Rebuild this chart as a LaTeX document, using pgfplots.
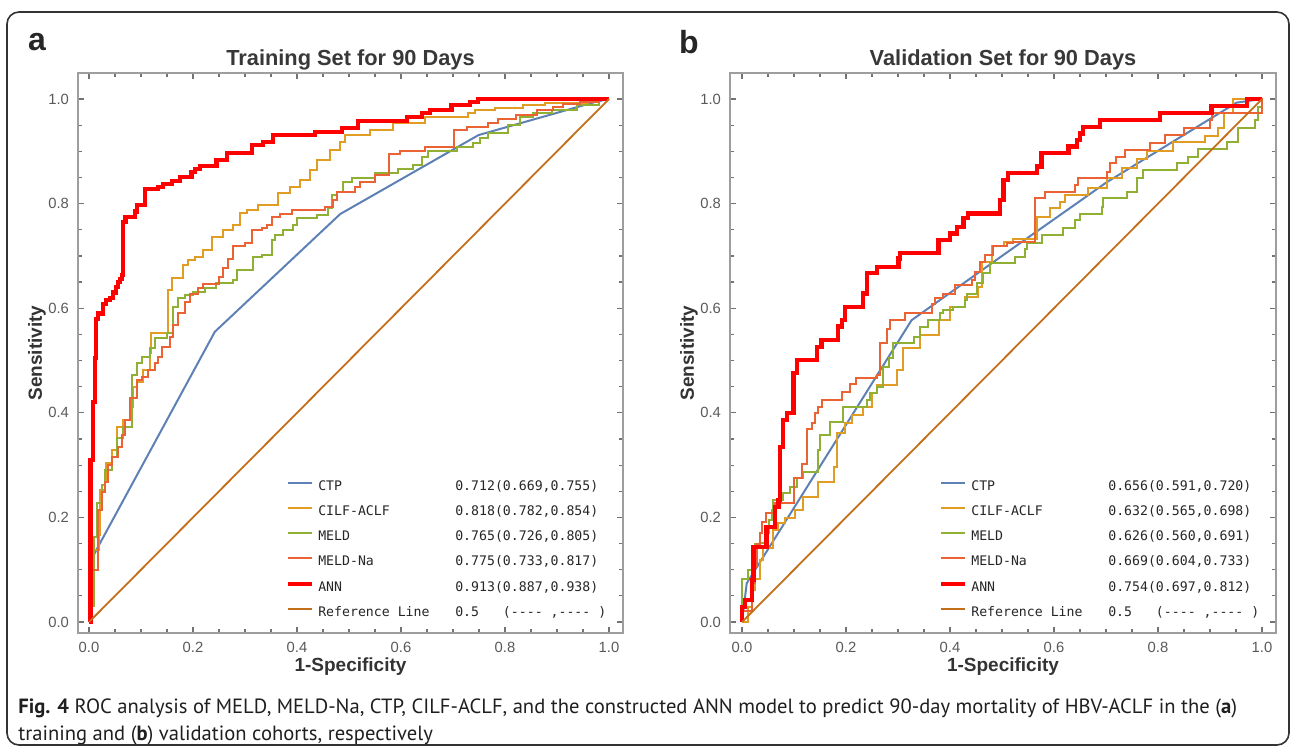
\documentclass[border=0pt]{standalone}
\usepackage{pgfplots}
\pgfplotsset{compat=1.18}
\usepackage{fontspec}
\setmainfont{Liberation Sans}
\newfontfamily\legmono{DejaVu Sans Mono}
\newfontfamily\capfont{PT Sans}

\definecolor{cCTP}{HTML}{5E81B5}
\definecolor{cCILF}{HTML}{E19C24}
\definecolor{cMELD}{HTML}{8FB032}
\definecolor{cMELDNa}{HTML}{EB6235}
\definecolor{cANN}{HTML}{FF0000}
\definecolor{cRef}{HTML}{C56E1A}

\pgfplotsset{
  rocaxis/.style={
    scale only axis, height=280pt, clip=false,
    ymin=-0.021, ymax=1.0497,
    xtick={0,0.2,0.4,0.6,0.8,1}, xticklabels={0.0,0.2,0.4,0.6,0.8,1.0},
    ytick={0,0.2,0.4,0.6,0.8,1}, yticklabels={0.0,0.2,0.4,0.6,0.8,1.0},
    minor tick num=3,
    tick align=inside, tick pos=both, xticklabel pos=lower, yticklabel pos=left,
    major tick length=3pt, minor tick length=1.8pt,
    axis line style={color=black!38, line width=0.7pt},
    tick style={color=black!55, line width=0.6pt},
    ticklabel style={font=\fontsize{7.4}{8}\selectfont, text=black!65},
    xticklabel style={yshift=-0.8pt},
    yticklabel style={xshift=-1pt},
    /pgf/number format/assume math mode=true,
    xlabel={1-Specificity}, ylabel={Sensitivity},
    xlabel style={font=\bfseries\fontsize{9.5}{11}\selectfont, text=black!80,
      at={(axis description cs:0.5,-0.0607)}, anchor=center},
    ylabel style={font=\bfseries\fontsize{9.5}{11}\selectfont, text=black!80,
      at={(axis description cs:-0.0752,0.5)}, anchor=center},
    legend style={draw=none, fill=none, inner sep=0pt, outer sep=0pt,
      at={(axis cs:0.379,0.268)}, anchor=north west,
      row sep=6.8pt, column sep=2pt, font=\legmono\fontsize{6.6}{7}\selectfont,
      text=black!85,
      nodes={inner sep=0pt, text height=4.5pt, text depth=1.2pt}},
    legend cell align=left,
    legend image code/.code={\draw[#1] (0pt,2.2pt) -- (12pt,2.2pt);},
    roc/.style={const plot, line width=1pt},
  }
}

\newcommand{\nm}[1]{\makebox[68.5pt][l]{#1}}
\newcommand{\ttl}[1]{\node[font=\bfseries\fontsize{10.9}{12}\selectfont, text=black!78] at (axis description cs:0.5,1.0235) {#1};}
\newcommand{\plet}[1]{\node[font=\bfseries\fontsize{16}{18}\selectfont, text=black!85] at (axis description cs:-0.0752,1.0554) {#1};}

\begin{document}
\begin{tikzpicture}
\useasboundingbox (0,0) rectangle (647.5pt,-375pt);
\draw[rounded corners=6pt, line width=0.8pt, color=black!80] (3.5pt,-6pt) rectangle (644.5pt,-372.5pt);

% panel a
\begin{axis}[rocaxis, width=272.5pt, xmin=-0.0212, xmax=1.0269,
  at={(39pt,-316.5pt)}, anchor=south west]
\addplot[color=cCTP, line width=1pt] coordinates {
  (0,0) (0.005,0.12) (0.018,0.145) (0.242,0.555) (0.483,0.78) (0.749,0.931) (0.976,0.995) (1,1)};
\addlegendentry{\nm{CTP}0.712(0.669,0.755)}
\addplot[color=cCILF, roc] coordinates {
  (0,0) (0.005,0.106) (0.010,0.138) (0.020,0.166) (0.021,0.252) (0.031,0.271)
  (0.033,0.304) (0.044,0.329) (0.053,0.373) (0.066,0.386) (0.078,0.412)
  (0.085,0.45) (0.092,0.459) (0.104,0.482) (0.117,0.514) (0.120,0.553)
  (0.152,0.635) (0.159,0.658) (0.181,0.683) (0.191,0.692) (0.204,0.698)
  (0.220,0.711) (0.236,0.737) (0.258,0.75) (0.277,0.759) (0.290,0.782)
  (0.303,0.788) (0.325,0.797) (0.364,0.82) (0.387,0.832) (0.406,0.845)
  (0.425,0.864) (0.438,0.883) (0.463,0.902) (0.483,0.918) (0.492,0.931)
  (0.540,0.941) (0.585,0.954) (0.646,0.966) (0.729,0.973) (0.742,0.979)
  (0.781,0.983) (0.835,0.989) (0.877,0.993) (0.96,1.0) (1,1)};
\addlegendentry{\nm{CILF-ACLF}0.818(0.782,0.854)}
\addplot[color=cMELD, roc] coordinates {
  (0,0) (0.005,0.03) (0.010,0.163) (0.015,0.227) (0.024,0.262) (0.031,0.29)
  (0.044,0.316) (0.053,0.352) (0.066,0.373) (0.082,0.472) (0.092,0.495)
  (0.101,0.507) (0.117,0.524) (0.127,0.543) (0.149,0.553) (0.162,0.603)
  (0.171,0.619) (0.185,0.625) (0.200,0.631) (0.223,0.638) (0.245,0.648)
  (0.277,0.654) (0.284,0.673) (0.315,0.698) (0.332,0.702) (0.351,0.73)
  (0.358,0.74) (0.373,0.75) (0.392,0.759) (0.400,0.772) (0.438,0.778)
  (0.460,0.792) (0.467,0.816) (0.476,0.823) (0.489,0.842) (0.505,0.849)
  (0.550,0.858) (0.594,0.866) (0.623,0.874) (0.640,0.889) (0.652,0.901)
  (0.707,0.908) (0.739,0.916) (0.752,0.925) (0.767,0.935) (0.806,0.95)
  (0.829,0.966) (0.854,0.973) (0.890,0.979) (0.938,0.989) (0.98,1.0) (1,1)};
\addlegendentry{\nm{MELD}0.765(0.726,0.805)}
\addplot[color=cMELDNa, roc] coordinates {
  (0,0) (0.005,0.10) (0.018,0.214) (0.024,0.249) (0.031,0.268) (0.037,0.30)
  (0.044,0.316) (0.056,0.335) (0.063,0.358) (0.069,0.386) (0.079,0.428)
  (0.092,0.463) (0.101,0.469) (0.114,0.482) (0.127,0.495) (0.133,0.507)
  (0.140,0.526) (0.156,0.545) (0.162,0.568) (0.172,0.59) (0.185,0.612)
  (0.194,0.628) (0.210,0.638) (0.220,0.646) (0.249,0.66) (0.258,0.676)
  (0.268,0.695) (0.277,0.718) (0.300,0.724) (0.313,0.75) (0.332,0.753)
  (0.342,0.759) (0.351,0.775) (0.367,0.781) (0.390,0.788) (0.454,0.794)
  (0.470,0.807) (0.476,0.823) (0.512,0.832) (0.521,0.842) (0.550,0.855)
  (0.576,0.895) (0.598,0.901) (0.646,0.909) (0.701,0.941) (0.726,0.947)
  (0.768,0.955) (0.787,0.961) (0.822,0.969) (0.861,0.979) (0.893,0.985)
  (0.912,0.99) (0.944,0.995) (0.98,1.0) (1,1)};
\addlegendentry{\nm{MELD-Na}0.775(0.733,0.817)}
\addplot[color=cANN, const plot, line width=2.1pt] coordinates {
  (0,0) (0.003,0.31) (0.008,0.42) (0.012,0.505) (0.013,0.58) (0.018,0.59)
  (0.027,0.608) (0.033,0.615) (0.040,0.62) (0.046,0.63) (0.052,0.64)
  (0.056,0.65) (0.060,0.656) (0.063,0.663) (0.066,0.765) (0.070,0.775)
  (0.088,0.785) (0.092,0.797) (0.108,0.828) (0.133,0.832) (0.142,0.837)
  (0.160,0.843) (0.175,0.851) (0.197,0.86) (0.204,0.866) (0.213,0.872)
  (0.245,0.883) (0.265,0.897) (0.313,0.912) (0.335,0.918) (0.354,0.931)
  (0.435,0.9375) (0.486,0.944) (0.517,0.958) (0.611,0.966) (0.640,0.973)
  (0.656,0.979) (0.697,0.989) (0.733,0.995) (0.748,1.0) (1,1)};
\addlegendentry{\nm{ANN}0.913(0.887,0.938)}
\addplot[color=cRef, line width=0.9pt] coordinates {(0,0) (1,1)};
\addlegendentry{\nm{Reference Line}0.5\ \ \ (-{}-{}-{}- ,-{}-{}-{}- )}
\ttl{Training Set for 90 Days}
\plet{a}
\end{axis}

% panel b
\begin{axis}[rocaxis, width=273pt, xmin=-0.0231, xmax=1.0269,
  at={(365pt,-316.5pt)}, anchor=south west]
\addplot[color=cCTP, line width=1pt] coordinates {
  (0,0) (0.009,0.074) (0.326,0.577) (0.5,0.70) (0.7,0.84) (0.951,0.993) (1,1)};
\addlegendentry{\nm{CTP}0.656(0.591,0.720)}
\addplot[color=cCILF, roc] coordinates {
  (0,0) (0.012,0.029) (0.019,0.061) (0.025,0.083) (0.035,0.119) (0.041,0.141)
  (0.060,0.176) (0.070,0.189) (0.083,0.198) (0.102,0.214) (0.118,0.24)
  (0.147,0.268) (0.176,0.297) (0.182,0.361) (0.198,0.38) (0.211,0.396)
  (0.233,0.412) (0.249,0.437) (0.259,0.453) (0.298,0.482) (0.310,0.523)
  (0.342,0.549) (0.378,0.577) (0.400,0.603) (0.429,0.622) (0.454,0.641)
  (0.461,0.689) (0.480,0.718) (0.503,0.727) (0.522,0.732) (0.567,0.775)
  (0.592,0.791) (0.612,0.804) (0.621,0.816) (0.666,0.829) (0.701,0.848)
  (0.730,0.869) (0.759,0.885) (0.778,0.901) (0.829,0.917) (0.890,0.929)
  (0.916,0.944) (0.926,0.973) (0.945,1.0) (1,1)};
\addlegendentry{\nm{CILF-ACLF}0.632(0.565,0.698)}
\addplot[color=cMELD, roc] coordinates {
  (0,0) (0,0.083) (0.012,0.10) (0.019,0.125) (0.025,0.15) (0.035,0.152)
  (0.044,0.17) (0.051,0.195) (0.057,0.214) (0.060,0.233) (0.079,0.246)
  (0.092,0.259) (0.105,0.275) (0.118,0.287) (0.147,0.329) (0.150,0.358)
  (0.169,0.383) (0.195,0.412) (0.240,0.424) (0.246,0.437) (0.259,0.45)
  (0.272,0.488) (0.282,0.504) (0.291,0.533) (0.330,0.545) (0.342,0.565)
  (0.358,0.577) (0.381,0.59) (0.387,0.597) (0.406,0.603) (0.429,0.616)
  (0.432,0.628) (0.451,0.648) (0.464,0.667) (0.477,0.686) (0.525,0.698)
  (0.544,0.714) (0.548,0.724) (0.576,0.74) (0.618,0.753) (0.640,0.769)
  (0.650,0.781) (0.692,0.794) (0.695,0.81) (0.740,0.823) (0.759,0.848)
  (0.772,0.864) (0.836,0.877) (0.858,0.89) (0.877,0.904) (0.932,0.918)
  (0.954,0.944) (0.987,0.96) (0.993,0.985) (1.0,1.0)};
\addlegendentry{\nm{MELD}0.626(0.560,0.691)}
\addplot[color=cMELDNa, roc] coordinates {
  (0,0) (0,0.022) (0.019,0.074) (0.025,0.106) (0.028,0.15) (0.035,0.17)
  (0.038,0.192) (0.047,0.208) (0.063,0.227) (0.099,0.275) (0.115,0.303)
  (0.124,0.37) (0.134,0.38) (0.140,0.399) (0.147,0.412) (0.153,0.424)
  (0.192,0.44) (0.208,0.456) (0.220,0.466) (0.259,0.472) (0.265,0.533)
  (0.278,0.561) (0.285,0.577) (0.313,0.59) (0.365,0.609) (0.371,0.619)
  (0.387,0.628) (0.410,0.644) (0.442,0.654) (0.448,0.67) (0.458,0.689)
  (0.467,0.702) (0.483,0.718) (0.509,0.724) (0.522,0.727) (0.563,0.81)
  (0.583,0.823) (0.640,0.836) (0.647,0.848) (0.701,0.861) (0.708,0.877)
  (0.720,0.89) (0.737,0.902) (0.785,0.915) (0.813,0.931) (0.849,0.944)
  (0.900,0.96) (0.903,0.973) (0.999,1.0) (1,1)};
\addlegendentry{\nm{MELD-Na}0.669(0.604,0.733)}
\addplot[color=cANN, const plot, line width=2.1pt] coordinates {
  (0,0) (0,0.029) (0.006,0.042) (0.019,0.08) (0.022,0.144) (0.047,0.182)
  (0.063,0.22) (0.070,0.233) (0.073,0.335) (0.079,0.386) (0.086,0.399)
  (0.099,0.476) (0.105,0.501) (0.144,0.526) (0.153,0.539) (0.185,0.565)
  (0.192,0.577) (0.198,0.603) (0.233,0.628) (0.240,0.667) (0.259,0.679)
  (0.301,0.695) (0.304,0.705) (0.378,0.73) (0.400,0.743) (0.413,0.756)
  (0.426,0.772) (0.435,0.781) (0.496,0.807) (0.503,0.845) (0.512,0.858)
  (0.567,0.871) (0.576,0.896) (0.628,0.909) (0.644,0.922) (0.650,0.934)
  (0.656,0.947) (0.688,0.96) (0.804,0.973) (0.903,0.987) (0.971,1.0) (1,1)};
\addlegendentry{\nm{ANN}0.754(0.697,0.812)}
\addplot[color=cRef, line width=0.9pt] coordinates {(0,0) (1,1)};
\addlegendentry{\nm{Reference Line}0.5\ \ \ (-{}-{}-{}- ,-{}-{}-{}- )}
\ttl{Validation Set for 90 Days}
\plet{b}
\end{axis}

% caption
\node[anchor=base west, inner sep=0pt, font=\capfont\fontsize{10.3}{11}\selectfont, text=black!88] at (9pt,-356.5pt)
  {\textbf{Fig. 4} ROC analysis of MELD, MELD-Na, CTP, CILF-ACLF, and the constructed ANN model to predict 90-day mortality of HBV-ACLF in the (\textbf{a})};
\node[anchor=base west, inner sep=0pt, font=\capfont\fontsize{10.3}{11}\selectfont, text=black!88] at (9pt,-370pt)
  {training and (\textbf{b}) validation cohorts, respectively};
\end{tikzpicture}
\end{document}
